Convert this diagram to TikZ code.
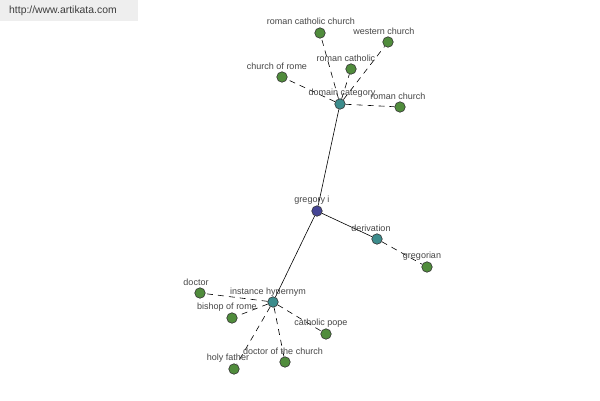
\documentclass[tikz,border=0pt]{standalone}
\usepackage{fontspec}
\setmainfont{Liberation Sans}
\definecolor{leafc}{RGB}{80,140,60}
\definecolor{hubc}{RGB}{60,140,140}
\definecolor{rootc}{RGB}{70,70,150}
\definecolor{labc}{RGB}{70,70,70}
\definecolor{wmbg}{RGB}{238,238,238}
\definecolor{wmtext}{RGB}{60,60,60}
\begin{document}
\begin{tikzpicture}[x=1pt,y=-1pt,
  leaf/.style={circle,draw=black!80,fill=leafc,minimum size=10.5pt,inner sep=0pt,line width=0.6pt},
  hub/.style={circle,draw=black!80,fill=hubc,minimum size=10.5pt,inner sep=0pt,line width=0.6pt},
  root/.style={circle,draw=black!80,fill=rootc,minimum size=10.5pt,inner sep=0pt,line width=0.6pt},
  lab/.style={font=\fontsize{9}{10}\selectfont,text=labc,inner sep=0pt},
  solidedge/.style={draw=black,line width=0.6pt},
  dashedge/.style={draw=black,line width=0.6pt,dash pattern=on 6pt off 5pt}]
\useasboundingbox (0,0) rectangle (600,400);
\fill[white] (0,0) rectangle (600,400);
\fill[wmbg] (0,0) rectangle (138,21);
\node[font=\fontsize{10.4}{12}\selectfont,text=wmtext,anchor=west,inner sep=0pt] (wm) at (9,11) {http://www.artikata.com};
% nodes
\node[root] (g) at (317,211) {};
\node[hub] (dc) at (340,104) {};
\node[hub] (dv) at (377,239) {};
\node[hub] (ih) at (273,302) {};
\node[leaf] (rcc) at (320,33) {};
\node[leaf] (wc) at (388,42) {};
\node[leaf] (rc) at (351,69) {};
\node[leaf] (cor) at (282,77) {};
\node[leaf] (rch) at (400,107) {};
\node[leaf] (gr) at (427,267) {};
\node[leaf] (doc) at (200,293) {};
\node[leaf] (bor) at (232,318) {};
\node[leaf] (cp) at (326,334) {};
\node[leaf] (dotc) at (285,362) {};
\node[leaf] (hf) at (234,369) {};
% edges
\draw[solidedge] (g) -- (dc);
\draw[solidedge] (g) -- (dv);
\draw[solidedge] (g) -- (ih);
\draw[dashedge] (dc) -- (rcc);
\draw[dashedge] (dc) -- (wc);
\draw[dashedge] (dc) -- (rc);
\draw[dashedge] (dc) -- (cor);
\draw[dashedge] (dc) -- (rch);
\draw[dashedge] (dv) -- (gr);
\draw[dashedge] (ih) -- (doc);
\draw[dashedge] (ih) -- (bor);
\draw[dashedge] (ih) -- (cp);
\draw[dashedge] (ih) -- (dotc);
\draw[dashedge] (ih) -- (hf);
% labels
\node[lab] (lg) at (312,200) {gregory i};
\node[lab] (ldc) at (342,93) {domain category};
\node[lab] (ldv) at (371,228) {derivation};
\node[lab] (lih) at (268,292) {instance hypernym};
\node[lab] (lrcc) at (311,21) {roman catholic church};
\node[lab] (lwc) at (384,31) {western church};
\node[lab] (lrc) at (346,58) {roman catholic};
\node[lab] (lcor) at (277,66) {church of rome};
\node[lab] (lrch) at (398,96) {roman church};
\node[lab] (lgr) at (422,256) {gregorian};
\node[lab] (ldoc) at (196,282) {doctor};
\node[lab] (lbor) at (227,307) {bishop of rome};
\node[lab] (lcp) at (321,323) {catholic pope};
\node[lab] (ldotc) at (283,351) {doctor of the church};
\node[lab] (lhf) at (228,358) {holy father};
\end{tikzpicture}
\end{document}
